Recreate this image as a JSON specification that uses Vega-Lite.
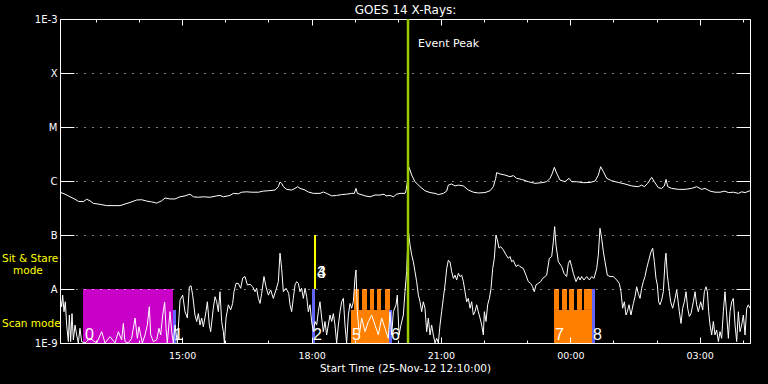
{
  "$schema": "https://vega.github.io/schema/vega-lite/v6.json",
  "width": 690,
  "height": 324,
  "autosize": {"type": "none"},
  "padding": {"left": 60, "top": 19, "right": 18, "bottom": 41},
  "background": "black",
  "config": {"view": {"stroke": "white", "strokeWidth": 1}, "font": "DejaVu Sans"},
  "datasets": {
    "blocks": [
      {"t": 32.0, "t2": 157.2, "f": 1e-9, "f2": 1e-8, "kind": "magenta"},
      {"t": 157.2, "t2": 161.4, "f": 1e-9, "f2": 4.1e-9, "kind": "blue"},
      {"t": 350.6, "t2": 354.8, "f": 1e-9, "f2": 1e-8, "kind": "blue"},
      {"t": 353.4, "t2": 356.2, "f": 1e-8, "f2": 1e-7, "kind": "yellow"},
      {"t": 404.9, "t2": 459.1, "f": 1e-9, "f2": 4.1e-9, "kind": "orange"},
      {"t": 409.0, "t2": 416.0, "f": 4.1e-9, "f2": 1e-8, "kind": "orange"},
      {"t": 420.2, "t2": 427.1, "f": 4.1e-9, "f2": 1e-8, "kind": "orange"},
      {"t": 431.3, "t2": 436.9, "f": 4.1e-9, "f2": 1e-8, "kind": "orange"},
      {"t": 441.0, "t2": 446.6, "f": 4.1e-9, "f2": 1e-8, "kind": "orange"},
      {"t": 452.2, "t2": 459.1, "f": 4.1e-9, "f2": 1e-8, "kind": "orange"},
      {"t": 457.7, "t2": 461.9, "f": 1e-9, "f2": 4.1e-9, "kind": "blue"},
      {"t": 687.3, "t2": 740.2, "f": 1e-9, "f2": 4.1e-9, "kind": "orange"},
      {"t": 687.3, "t2": 694.3, "f": 4.1e-9, "f2": 1e-8, "kind": "orange"},
      {"t": 698.4, "t2": 705.4, "f": 4.1e-9, "f2": 1e-8, "kind": "orange"},
      {"t": 708.2, "t2": 715.1, "f": 4.1e-9, "f2": 1e-8, "kind": "orange"},
      {"t": 719.3, "t2": 726.3, "f": 4.1e-9, "f2": 1e-8, "kind": "orange"},
      {"t": 729.0, "t2": 740.2, "f": 4.1e-9, "f2": 1e-8, "kind": "orange"},
      {"t": 740.2, "t2": 744.3, "f": 1e-9, "f2": 1e-8, "kind": "blue"}
    ],
    "hi": [
      {"t":0,"f":6.2e-7},{"t":7,"f":5.7e-7},{"t":13.9,"f":5.1e-7},{"t":20.9,"f":4.6e-7},{"t":25.5,"f":4.2e-7},{"t":32.5,"f":4.15e-7},{"t":37.1,"f":4.6e-7},{"t":41.7,"f":4.3e-7},{"t":46.4,"f":3.85e-7},{"t":55.7,"f":3.7e-7},{"t":64.9,"f":3.5e-7},{"t":83.5,"f":3.5e-7},{"t":90.4,"f":3.75e-7},{"t":97.4,"f":4.0e-7},{"t":106.7,"f":4.45e-7},{"t":113.6,"f":4.5e-7},{"t":120.6,"f":4.25e-7},{"t":127.5,"f":4.1e-7},{"t":134.5,"f":3.9e-7},{"t":141.5,"f":4.3e-7},{"t":146.1,"f":4.85e-7},{"t":153.1,"f":4.65e-7},{"t":160,"f":4.65e-7},{"t":167,"f":5.1e-7},{"t":173.9,"f":5.3e-7},{"t":180.9,"f":5.7e-7},{"t":185.5,"f":5.1e-7},{"t":192.5,"f":5.0e-7},{"t":199.4,"f":5.1e-7},{"t":208.7,"f":5.0e-7},{"t":218,"f":5.3e-7},{"t":222.6,"f":5.4e-7},{"t":227.3,"f":5.1e-7},{"t":236.5,"f":5.4e-7},{"t":241.2,"f":5.9e-7},{"t":248.1,"f":5.8e-7},{"t":252.8,"f":6.2e-7},{"t":259.7,"f":6.3e-7},{"t":266.7,"f":6.2e-7},{"t":276,"f":6.2e-7},{"t":282.9,"f":6.5e-7},{"t":289.9,"f":6.6e-7},{"t":299.2,"f":6.8e-7},{"t":303.8,"f":7.85e-7},{"t":306.1,"f":9.6e-7},{"t":308.4,"f":9.05e-7},{"t":310.7,"f":7.85e-7},{"t":315.4,"f":7.0e-7},{"t":322.3,"f":6.8e-7},{"t":327,"f":7.3e-7},{"t":330.7,"f":7.85e-7},{"t":333.9,"f":7.3e-7},{"t":340.9,"f":6.8e-7},{"t":345.5,"f":6.25e-7},{"t":352.5,"f":5.9e-7},{"t":361.8,"f":5.9e-7},{"t":366.4,"f":6.25e-7},{"t":371,"f":5.9e-7},{"t":378,"f":5.3e-7},{"t":384.9,"f":5.4e-7},{"t":391.9,"f":5.6e-7},{"t":398.9,"f":5.7e-7},{"t":405.8,"f":5.9e-7},{"t":409.5,"f":5.9e-7},{"t":411.8,"f":7.3e-7},{"t":413.7,"f":5.9e-7},{"t":417.4,"f":5.7e-7},{"t":424.4,"f":5.3e-7},{"t":431.3,"f":5.1e-7},{"t":438.3,"f":5.5e-7},{"t":445.2,"f":5.5e-7},{"t":450.8,"f":5.7e-7},{"t":453.6,"f":5.3e-7},{"t":459.2,"f":5.4e-7},{"t":463.8,"f":5.1e-7},{"t":468.4,"f":5.7e-7},{"t":473.1,"f":5.9e-7},{"t":480,"f":5.9e-7},
      {"t":481.4,"f":6.6e-7},{"t":483.7,"f":1.04e-6},{"t":485.6,"f":1.79e-6},{"t":489.3,"f":1.29e-6},{"t":493.9,"f":9.7e-7},{"t":500.9,"f":7.85e-7},{"t":507.8,"f":6.6e-7},{"t":514.8,"f":6.1e-7},{"t":521.7,"f":5.9e-7},{"t":526.4,"f":5.6e-7},{"t":533.3,"f":5.9e-7},{"t":538,"f":6.5e-7},{"t":540.3,"f":8.4e-7},{"t":544.9,"f":8.8e-7},{"t":549.6,"f":8.1e-7},{"t":554.2,"f":8.4e-7},{"t":561.2,"f":8.1e-7},{"t":568.1,"f":6.8e-7},{"t":575.1,"f":6.2e-7},{"t":582,"f":6.0e-7},{"t":591.3,"f":6.1e-7},{"t":598.3,"f":6.6e-7},{"t":602.9,"f":7.85e-7},{"t":606.2,"f":1.12e-6},{"t":607.5,"f":1.43e-6},{"t":612.2,"f":1.35e-6},{"t":619.1,"f":1.29e-6},{"t":626.1,"f":1.2e-6},{"t":630.7,"f":1.26e-6},{"t":635.4,"f":1.12e-6},{"t":642.3,"f":1.07e-6},{"t":651.6,"f":9.7e-7},{"t":660.9,"f":9.05e-7},{"t":670.2,"f":9.3e-7},{"t":677.1,"f":9.7e-7},{"t":681.8,"f":1.12e-6},{"t":685,"f":1.39e-6},{"t":687.8,"f":1.79e-6},{"t":691,"f":1.39e-6},{"t":695.7,"f":1.04e-6},{"t":702.6,"f":9.7e-7},{"t":708.2,"f":1.12e-6},{"t":711.9,"f":9.7e-7},{"t":718.9,"f":9.7e-7},{"t":728.1,"f":9.3e-7},{"t":737.4,"f":9.4e-7},{"t":744.4,"f":1.0e-6},{"t":749,"f":1.29e-6},{"t":752.2,"f":1.84e-6},{"t":756,"f":1.49e-6},{"t":760.6,"f":1.12e-6},{"t":767.6,"f":1.01e-6},{"t":776.8,"f":9.4e-7},{"t":786.1,"f":8.8e-7},{"t":795.4,"f":8.1e-7},{"t":804.7,"f":7.85e-7},{"t":809.3,"f":8.4e-7},{"t":813,"f":7.85e-7},{"t":817.6,"f":9.05e-7},{"t":823.2,"f":1.17e-6},{"t":826.9,"f":9.7e-7},{"t":832.5,"f":7.5e-7},{"t":837.1,"f":7.3e-7},{"t":840.8,"f":8.1e-7},{"t":843.2,"f":1.07e-6},{"t":845.5,"f":7.85e-7},{"t":851,"f":7.3e-7},{"t":860.3,"f":7.0e-7},{"t":869.6,"f":7.0e-7},{"t":878.9,"f":7.3e-7},{"t":885.8,"f":7.85e-7},{"t":892.8,"f":7.0e-7},{"t":897.4,"f":7.3e-7},{"t":904.4,"f":6.5e-7},{"t":911.3,"f":6.2e-7},{"t":918.3,"f":6.2e-7},{"t":925.2,"f":6.5e-7},{"t":929.9,"f":6.1e-7},{"t":936.8,"f":6.2e-7},{"t":943.8,"f":5.9e-7},{"t":948.4,"f":6.3e-7},{"t":953.1,"f":6.1e-7},{"t":960,"f":6.6e-7}
    ],
    "lo": [
      {"t":0,"f":7.2e-9},{"t":2.3,"f":4.7e-9},{"t":3.7,"f":7.7e-9},{"t":5.6,"f":3.8e-9},{"t":7.4,"f":5.8e-9},{"t":9.3,"f":2.15e-9},{"t":11.6,"f":1.06e-9},{"t":13,"f":3.3e-9},{"t":14.8,"f":1.06e-9},{"t":16.7,"f":3.5e-9},{"t":18.6,"f":1.14e-9},{"t":20.9,"f":2.15e-9},{"t":23.2,"f":1.41e-9},{"t":25.5,"f":1e-9},{"t":27.8,"f":1.87e-9},{"t":30.1,"f":1.06e-9},{"t":34.8,"f":1e-9},{"t":41.7,"f":1.22e-9},{"t":51,"f":1e-9},{"t":58,"f":1.62e-9},{"t":62.6,"f":1e-9},{"t":69.6,"f":1.31e-9},{"t":76.5,"f":1e-9},{"t":81.2,"f":1.62e-9},{"t":85.8,"f":1.14e-9},{"t":88.1,"f":2.3e-9},{"t":90.4,"f":1.06e-9},{"t":95.1,"f":1e-9},{"t":99.7,"f":1.22e-9},{"t":104.4,"f":2.9e-9},{"t":107.6,"f":1.22e-9},{"t":109.9,"f":2e-9},{"t":112.2,"f":1.41e-9},{"t":114.6,"f":1e-9},{"t":118.3,"f":1.41e-9},{"t":121.5,"f":2.15e-9},{"t":124.3,"f":4.7e-9},{"t":126.2,"f":1.41e-9},{"t":129.9,"f":1.06e-9},{"t":134.5,"f":1.14e-9},{"t":137.7,"f":1.87e-9},{"t":140.1,"f":1.41e-9},{"t":142.9,"f":3.3e-9},{"t":145.6,"f":5.7e-9},{"t":147.5,"f":1.87e-9},{"t":149.3,"f":1e-9},{"t":153.1,"f":3.8e-9},{"t":155.4,"f":1.62e-9},{"t":157.7,"f":1e-9},{"t":160,"f":2.15e-9},{"t":163.3,"f":1e-9},{"t":167,"f":6.25e-9},{"t":170.7,"f":7.7e-9},{"t":173.9,"f":3.8e-9},{"t":177.2,"f":2.9e-9},{"t":180,"f":1.1e-8},{"t":182.3,"f":1.15e-8},{"t":184.6,"f":7.7e-9},{"t":187.8,"f":3.3e-9},{"t":190.2,"f":2.5e-9},{"t":192.5,"f":3.5e-9},{"t":194.8,"f":2.15e-9},{"t":197.1,"f":2.9e-9},{"t":199.4,"f":2e-9},{"t":203.1,"f":3.8e-9},{"t":205,"f":5.8e-9},{"t":207.8,"f":2.15e-9},{"t":209.6,"f":1.62e-9},{"t":213.3,"f":4.4e-9},{"t":215.7,"f":7.2e-9},{"t":218,"f":5.8e-9},{"t":220.3,"f":3.8e-9},{"t":222.6,"f":8.9e-9},{"t":224.9,"f":2.5e-9},{"t":227.3,"f":1.62e-9},{"t":228.7,"f":1e-9},{"t":231,"f":2.9e-9},{"t":234.2,"f":5.1e-9},{"t":237.5,"f":4.1e-9},{"t":240.2,"f":5.4e-9},{"t":242.1,"f":8.9e-9},{"t":244.9,"f":1.27e-8},{"t":248.1,"f":1.27e-8},{"t":251.4,"f":1.03e-8},{"t":254.2,"f":1.6e-8},{"t":257.4,"f":1.7e-8},{"t":260.7,"f":1.19e-8},{"t":264.4,"f":1.22e-8},{"t":268.1,"f":1.1e-8},{"t":271.3,"f":8.9e-9},{"t":273.6,"f":1.03e-8},{"t":276,"f":6.7e-9},{"t":278.3,"f":5.4e-9},{"t":280.6,"f":8.3e-9},{"t":283.8,"f":1.7e-8},{"t":286.6,"f":1.1e-8},{"t":289.9,"f":7.7e-9},{"t":293.1,"f":9.6e-9},{"t":296.8,"f":6.7e-9},{"t":300.5,"f":9.6e-9},{"t":303.8,"f":1.37e-8},{"t":306.1,"f":4.6e-8},{"t":308.4,"f":2.4e-8},{"t":310.7,"f":8.9e-9},{"t":314.5,"f":1.03e-8},{"t":318.2,"f":8.3e-9},
      {"t":320,"f":5.1e-9},{"t":322.3,"f":3.8e-9},{"t":324.6,"f":6.7e-9},{"t":327,"f":1.19e-8},{"t":329.3,"f":1.37e-8},{"t":331.6,"f":1.27e-8},{"t":333.9,"f":8.9e-9},{"t":336.2,"f":1.03e-8},{"t":338.6,"f":6.7e-9},{"t":340.9,"f":1.03e-8},{"t":343.2,"f":7.2e-9},{"t":345.5,"f":3.8e-9},{"t":347.8,"f":5.1e-9},{"t":350.1,"f":2.5e-9},{"t":352.5,"f":1.62e-9},{"t":354.8,"f":2.5e-9},{"t":357.1,"f":2.15e-9},{"t":359.4,"f":3.8e-9},{"t":361.7,"f":5.8e-9},{"t":364.1,"f":2.9e-9},{"t":366.4,"f":1.62e-9},{"t":368.7,"f":2.5e-9},{"t":371,"f":1.41e-9},{"t":373.3,"f":2.15e-9},{"t":375.7,"f":3.3e-9},{"t":378,"f":2.5e-9},{"t":380.3,"f":3.5e-9},{"t":382.6,"f":2.15e-9},{"t":384.9,"f":1e-9},{"t":387.3,"f":2.15e-9},{"t":389.6,"f":3.8e-9},{"t":391.9,"f":5.8e-9},{"t":394.2,"f":6.7e-9},{"t":396.5,"f":2.15e-9},{"t":398.8,"f":1e-9},{"t":401.2,"f":3.3e-9},{"t":403.5,"f":5.4e-9},{"t":405.8,"f":4.4e-9},{"t":408.1,"f":5.8e-9},{"t":410.4,"f":1.57e-8},{"t":411.8,"f":2.25e-8},{"t":413.7,"f":3.8e-9},{"t":416.5,"f":1.41e-9},{"t":419.7,"f":2.9e-9},{"t":424.4,"f":1.62e-9},{"t":429,"f":2.5e-9},{"t":433.6,"f":3.3e-9},{"t":438.3,"f":2.15e-9},{"t":442.9,"f":1.41e-9},{"t":447.5,"f":2.9e-9},{"t":452.2,"f":1.87e-9},{"t":456.8,"f":1.22e-9},{"t":459.1,"f":3.8e-9},{"t":461.5,"f":1.41e-9},{"t":463.8,"f":3.8e-9},{"t":467.5,"f":5.1e-9},{"t":469.3,"f":7.7e-9},{"t":471.7,"f":1.41e-9},{"t":474.4,"f":2.15e-9},{"t":477.7,"f":3.3e-9},{"t":480,"f":8.9e-9},{"t":482.3,"f":2.1e-8},{"t":483.7,"f":6.5e-8},{"t":485.1,"f":1.07e-7},{"t":487,"f":6.5e-8},{"t":489.3,"f":4.3e-8},{"t":491.6,"f":3.2e-8},{"t":493.9,"f":2.1e-8},{"t":496.2,"f":1.37e-8},{"t":498.6,"f":7.7e-9},{"t":500.9,"f":5.8e-9},{"t":503.2,"f":3.8e-9},{"t":505.5,"f":5.8e-9},{"t":507.8,"f":4.4e-9},{"t":510.2,"f":1.62e-9},{"t":512.5,"f":2.9e-9},{"t":514.8,"f":1.41e-9},{"t":517.1,"f":2.15e-9},{"t":519.4,"f":1.41e-9},{"t":521.8,"f":1e-9},{"t":524.1,"f":1.22e-9},{"t":526.4,"f":1e-9},{"t":528.7,"f":2.15e-9},{"t":531,"f":3.8e-9},{"t":533.3,"f":6.7e-9},{"t":535.7,"f":1.19e-8},{"t":538,"f":2.4e-8},{"t":540.3,"f":3.4e-8},{"t":542.6,"f":3.2e-8},{"t":544.9,"f":2.1e-8},{"t":547.3,"f":1.57e-8},{"t":549.6,"f":1.8e-8},{"t":551.9,"f":1.47e-8},{"t":554.2,"f":1.95e-8},{"t":556.5,"f":1.7e-8},{"t":558.9,"f":1.8e-8},{"t":561.2,"f":1.37e-8},{"t":563.5,"f":8.9e-9},{"t":565.8,"f":5.8e-9},{"t":568.1,"f":6.7e-9},{"t":570.5,"f":4.4e-9},{"t":572.8,"f":5.8e-9},{"t":575.1,"f":3.3e-9},{"t":577.4,"f":3.8e-9},{"t":579.7,"f":5.1e-9},{"t":582,"f":3.8e-9},{"t":584.4,"f":2.9e-9},{"t":586.7,"f":2.15e-9},{"t":589,"f":1.41e-9},{"t":590.4,"f":3.8e-9},{"t":592.7,"f":2.5e-9},{"t":595,"f":5.1e-9},{"t":597.4,"f":6.7e-9},{"t":599.7,"f":1.03e-8},{"t":602,"f":2.4e-8},{"t":604.3,"f":3.7e-8},{"t":606.6,"f":1.0e-7},{"t":608.5,"f":8.1e-8},{"t":610.8,"f":5.7e-8},{"t":613.1,"f":6.1e-8},{"t":616.8,"f":5.3e-8},{"t":620.5,"f":4.3e-8},{"t":623.8,"f":3.7e-8},{"t":626.1,"f":4.0e-8},{"t":628.4,"f":3.2e-8},{"t":630.7,"f":3.4e-8},{"t":634.5,"f":2.6e-8},{"t":637.7,"f":2.8e-8},
      {"t":640,"f":2.6e-8},{"t":644.6,"f":2.4e-8},{"t":648.3,"f":1.8e-8},{"t":651.6,"f":1.37e-8},{"t":654.8,"f":1.27e-8},{"t":657.6,"f":1.1e-8},{"t":659.9,"f":8.9e-9},{"t":662.3,"f":1.19e-8},{"t":665.5,"f":1.27e-8},{"t":668.8,"f":1.37e-8},{"t":671.5,"f":1.57e-8},{"t":674.8,"f":1.7e-8},{"t":677.1,"f":1.8e-8},{"t":680.8,"f":3.7e-8},{"t":684.1,"f":4.0e-8},{"t":686.4,"f":7.5e-8},{"t":688.2,"f":1.43e-7},{"t":690.1,"f":6.5e-8},{"t":693.3,"f":3.2e-8},{"t":698,"f":2.6e-8},{"t":701.2,"f":1.95e-8},{"t":704.9,"f":1.7e-8},{"t":707.3,"f":3.0e-8},{"t":709.6,"f":3.4e-8},{"t":711.9,"f":2.6e-8},{"t":714.2,"f":1.95e-8},{"t":717.9,"f":1.37e-8},{"t":721.2,"f":1.7e-8},{"t":723.5,"f":1.47e-8},{"t":725.8,"f":1.7e-8},{"t":729,"f":1.47e-8},{"t":732.8,"f":1.7e-8},{"t":736.5,"f":1.47e-8},{"t":739.7,"f":1.7e-8},{"t":743,"f":1.57e-8},{"t":746.7,"f":2.4e-8},{"t":749,"f":4.3e-8},{"t":751.3,"f":1.33e-7},{"t":753.6,"f":8.7e-8},{"t":756,"f":4.9e-8},{"t":758.3,"f":3.2e-8},{"t":761.5,"f":1.8e-8},{"t":765.2,"f":1.7e-8},{"t":769.9,"f":1.7e-8},{"t":774.5,"f":1.47e-8},{"t":778.2,"f":1.27e-8},{"t":780.5,"f":8.9e-9},{"t":782.8,"f":4.4e-9},{"t":785.2,"f":5.8e-9},{"t":787.5,"f":3.3e-9},{"t":789.3,"f":3.8e-9},{"t":791.7,"f":5.1e-9},{"t":794.4,"f":3.3e-9},{"t":797.7,"f":5.4e-9},{"t":800,"f":7.2e-9},{"t":802.3,"f":1.1e-8},{"t":804.6,"f":8.3e-9},{"t":807,"f":6.7e-9},{"t":809.3,"f":1.03e-8},{"t":811.6,"f":1.37e-8},{"t":813.9,"f":1.7e-8},{"t":816.2,"f":2.4e-8},{"t":818.6,"f":3.2e-8},{"t":822.3,"f":4.9e-8},{"t":824.6,"f":5.7e-8},{"t":826.9,"f":3.2e-8},{"t":829.2,"f":1.57e-8},{"t":831.1,"f":1.19e-8},{"t":832.9,"f":5.8e-9},{"t":834.8,"f":5.1e-9},{"t":837.1,"f":6.25e-9},{"t":839.4,"f":8.9e-9},{"t":841.8,"f":3.2e-8},{"t":843.1,"f":4.6e-8},{"t":845,"f":1.8e-8},{"t":847.8,"f":8.9e-9},{"t":849.6,"f":5.8e-9},{"t":852.4,"f":4.4e-9},{"t":855.7,"f":6.7e-9},{"t":858,"f":9.6e-9},{"t":861.7,"f":3.8e-9},{"t":864,"f":2.3e-9},{"t":866.3,"f":4.4e-9},{"t":868.7,"f":5.8e-9},{"t":871,"f":8.9e-9},{"t":873.3,"f":4.4e-9},{"t":875.6,"f":3.1e-9},{"t":877.9,"f":3.5e-9},{"t":881.2,"f":5.8e-9},{"t":883.5,"f":8.9e-9},{"t":885.8,"f":5.1e-9},{"t":888.1,"f":3.8e-9},{"t":891.4,"f":5.8e-9},{"t":894.2,"f":4.1e-9},{"t":896.5,"f":8.9e-9},{"t":898.8,"f":1.1e-8},{"t":900.7,"f":8.9e-9},{"t":902.5,"f":3.8e-9},{"t":904.4,"f":2.15e-9},{"t":906.7,"f":1.41e-9},{"t":909,"f":2.5e-9},{"t":911.3,"f":1.41e-9},{"t":913.6,"f":1.74e-9},{"t":916,"f":1.06e-9},{"t":918.3,"f":1.62e-9},{"t":920.6,"f":1.22e-9},{"t":922.9,"f":3.8e-9},{"t":925.2,"f":8.9e-9},{"t":927.6,"f":3.3e-9},{"t":929.9,"f":1.22e-9},{"t":932.2,"f":3.8e-9},{"t":934.5,"f":5.8e-9},{"t":936.8,"f":6.7e-9},{"t":939.2,"f":2.15e-9},{"t":941.5,"f":1.06e-9},{"t":943.8,"f":3.8e-9},{"t":946.1,"f":1.62e-9},{"t":948.4,"f":2.15e-9},{"t":950.8,"f":3.3e-9},{"t":953.1,"f":1.41e-9},{"t":955.4,"f":4.4e-9},{"t":957.7,"f":5.1e-9},{"t":960,"f":4.4e-9}
    ],
    "nums": [
      {"t": 34.8, "f": 1.14e-9, "txt": "0"},
      {"t": 158.6, "f": 1.14e-9, "txt": "1"},
      {"t": 352.0, "f": 1.14e-9, "txt": "2"},
      {"t": 357.6, "f": 1.6e-8, "txt": "3"},
      {"t": 357.6, "f": 1.6e-8, "txt": "4"},
      {"t": 406.3, "f": 1.14e-9, "txt": "5"},
      {"t": 460.5, "f": 1.14e-9, "txt": "6"},
      {"t": 688.7, "f": 1.14e-9, "txt": "7"},
      {"t": 741.6, "f": 1.14e-9, "txt": "8"}
    ],
    "event": [{"t": 484.2, "f": 3.03e-4, "txt": "Event Peak"}],
    "side": [
      {"t": -80.7, "f": 3.6e-8, "txt": "Sit & Stare"},
      {"t": -65.4, "f": 2.15e-8, "txt": "mode"},
      {"t": -80.7, "f": 2.25e-9, "txt": "Scan mode"}
    ]
  },
  "layer": [
    {
      "data": {"name": "blocks"},
      "mark": {"type": "rect"},
      "encoding": {
        "x": {"field": "t", "type": "quantitative", "scale": {"domain": [0, 960], "nice": false, "zero": false},
          "axis": {
            "orient": "bottom",
            "values": [50,110,170,230,290,350,410,470,530,590,650,710,770,830,890,950],
            "ticks": false, "domain": false, "grid": true, "gridColor": "white", "gridOpacity": 1, "gridWidth": 1,
            "gridDash": {"condition": {"test": "(datum.value + 10) % 180 == 0", "value": [6, 312, 6, 1000]}, "value": [3, 318, 3, 1000]},
            "labelExpr": "datum.value == 170 ? '15:00' : datum.value == 350 ? '18:00' : datum.value == 530 ? '21:00' : datum.value == 710 ? '00:00' : datum.value == 890 ? '03:00' : ''",
            "labelColor": "white", "labelFont": "DejaVu Sans", "labelFontSize": 9.5, "labelPadding": 7, "labelFlush": false, "labelOverlap": false,
            "title": "Start Time (25-Nov-12 12:10:00)", "titleColor": "white", "titleFont": "DejaVu Sans", "titleFontSize": 10.5, "titleFontWeight": "normal", "titlePadding": 4,
            "zindex": 1
          }
        },
        "x2": {"field": "t2"},
        "y": {"field": "f", "type": "quantitative", "scale": {"type": "log", "domain": [1e-9, 1e-3], "nice": false},
          "axis": {
            "values": [1e-9, 1e-8, 1e-7, 1e-6, 1e-5, 1e-4, 1e-3],
            "labelExpr": "datum.value < 5e-9 ? '1E-9' : datum.value < 5e-8 ? 'A' : datum.value < 5e-7 ? 'B' : datum.value < 5e-6 ? 'C' : datum.value < 5e-5 ? 'M' : datum.value < 5e-4 ? 'X' : '1E-3'",
            "ticks": true, "tickSize": -14, "tickColor": "white", "tickWidth": 1, "domain": false,
            "grid": true, "gridColor": "white", "gridOpacity": 1, "gridDash": [1, 7],
            "labelColor": "white", "labelFont": "DejaVu Sans", "labelFontSize": 10, "labelPadding": 17, "labelFlush": false, "labelOverlap": false,
            "title": null, "zindex": 1
          }
        },
        "y2": {"field": "f2"},
        "color": {"field": "kind", "type": "nominal", "scale": {"domain": ["magenta", "blue", "yellow", "orange"], "range": ["#c800c8", "#6464ff", "#ffff00", "#ff8000"]}, "legend": null}
      }
    },
    {
      "data": {"name": "hi"},
      "mark": {"type": "line", "color": "white", "strokeWidth": 1, "clip": true},
      "encoding": {
        "x": {"field": "t", "type": "quantitative", "scale": {"domain": [0, 960], "nice": false, "zero": false},
          "axis": {"orient": "top", "labels": false, "ticks": false, "domain": false, "grid": false,
            "title": "GOES 14 X-Rays:", "titleColor": "white", "titleFont": "DejaVu Sans", "titleFontSize": 12, "titleFontWeight": "normal", "titlePadding": 2.5}
        },
        "y": {"field": "f", "type": "quantitative", "scale": {"type": "log", "domain": [1e-9, 1e-3], "nice": false},
          "axis": {"orient": "right", "values": [1e-9, 1e-8, 1e-7, 1e-6, 1e-5, 1e-4, 1e-3], "labels": false, "ticks": true, "tickSize": -14, "tickColor": "white", "domain": false, "grid": false, "title": null, "zindex": 1}
        }
      }
    },
    {
      "data": {"name": "lo"},
      "mark": {"type": "line", "color": "white", "strokeWidth": 1, "clip": true},
      "encoding": {
        "x": {"field": "t", "type": "quantitative", "scale": {"domain": [0, 960], "nice": false, "zero": false}, "axis": null},
        "y": {"field": "f", "type": "quantitative", "scale": {"type": "log", "domain": [1e-9, 1e-3], "nice": false}, "axis": null}
      }
    },
    {
      "data": {"name": "event"},
      "mark": {"type": "rule", "color": "#99cc00", "strokeWidth": 2.5},
      "encoding": {
        "x": {"field": "t", "type": "quantitative", "scale": {"domain": [0, 960], "nice": false, "zero": false}, "axis": null}
      }
    },
    {
      "data": {"name": "event"},
      "mark": {"type": "text", "color": "white", "font": "DejaVu Sans", "fontSize": 11, "align": "left", "baseline": "alphabetic", "dx": 10},
      "encoding": {
        "x": {"field": "t", "type": "quantitative", "scale": {"domain": [0, 960], "nice": false, "zero": false}, "axis": null},
        "y": {"field": "f", "type": "quantitative", "scale": {"type": "log", "domain": [1e-9, 1e-3], "nice": false}, "axis": null},
        "text": {"field": "txt"}
      }
    },
    {
      "data": {"name": "nums"},
      "mark": {"type": "text", "color": "white", "font": "Liberation Sans", "fontSize": 16, "align": "left", "baseline": "alphabetic"},
      "encoding": {
        "x": {"field": "t", "type": "quantitative", "scale": {"domain": [0, 960], "nice": false, "zero": false}, "axis": null},
        "y": {"field": "f", "type": "quantitative", "scale": {"type": "log", "domain": [1e-9, 1e-3], "nice": false}, "axis": null},
        "text": {"field": "txt"}
      }
    },
    {
      "data": {"name": "side"},
      "mark": {"type": "text", "color": "#ffff00", "font": "DejaVu Sans", "fontSize": 10.5, "align": "left", "baseline": "middle"},
      "encoding": {
        "x": {"field": "t", "type": "quantitative", "scale": {"domain": [0, 960], "nice": false, "zero": false}, "axis": null},
        "y": {"field": "f", "type": "quantitative", "scale": {"type": "log", "domain": [1e-9, 1e-3], "nice": false}, "axis": null},
        "text": {"field": "txt"}
      }
    }
  ],
  "resolve": {"axis": {"x": "independent", "y": "independent"}}
}
